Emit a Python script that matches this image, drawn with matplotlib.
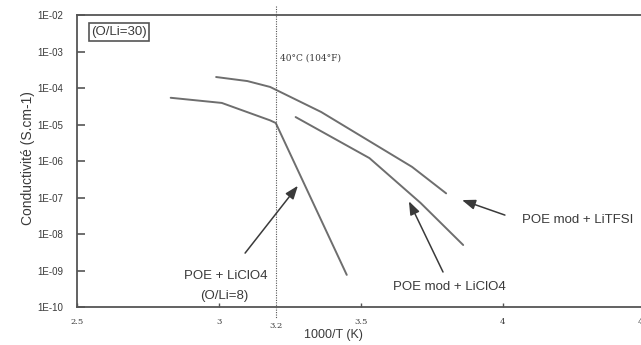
import numpy as np
import matplotlib
matplotlib.use("Agg")
import matplotlib.pyplot as plt

# conductivity curves, x = 1000/T (K^-1), y = conductivity (S/cm)
litfsi_x = [2.99, 3.10, 3.18, 3.36, 3.68, 3.80]
litfsi_y = [2.0e-4, 1.55e-4, 1.07e-4, 2.2e-5, 6.9e-7, 1.3e-7]

poe_liclo4_x = [2.83, 3.01, 3.18, 3.20, 3.45]
poe_liclo4_y = [5.4e-5, 3.9e-5, 1.3e-5, 1.1e-5, 7.6e-10]

mod_liclo4_x = [3.27, 3.53, 3.71, 3.86]
mod_liclo4_y = [1.6e-5, 1.2e-6, 7.1e-8, 5.0e-9]

x_ticks = [2.5, 3, 3.5, 4, 4.5]
x_tick_labels = ["2.5", "3", "3.5", "4", "4.5"]
y_ticks = [1e-10, 1e-9, 1e-8, 1e-7, 1e-6, 1e-5, 1e-4, 1e-3, 1e-2]
y_tick_labels = ["1E-10", "1E-09", "1E-08", "1E-07", "1E-06",
                 "1E-05", "1E-04", "1E-03", "1E-02"]
t_40c = 3.2  # 1000/T at 40 °C

ink = "#3a3a3a"
curve = "#6e6e6e"

fig = plt.figure(figsize=(6.41, 3.45), dpi=100)
ax = fig.add_axes([0.1201, 0.1101, 0.886, 0.8464])
ax.set_yscale("log")
ax.set_xlim(2.5, 4.5)
ax.set_ylim(1e-10, 1e-2)

for xs, ys in [(litfsi_x, litfsi_y), (poe_liclo4_x, poe_liclo4_y),
               (mod_liclo4_x, mod_liclo4_y)]:
    ax.plot(xs, ys, color=curve, lw=1.4, solid_capstyle="round")

# 40 °C marker line, running a little past the frame
ax.plot([t_40c, t_40c], [10 ** -1.75, 10 ** -10.3], color="#555555",
        lw=0.8, ls=(0, (1, 1.2)), clip_on=False)
ax.text(3.215, 6.6e-4, "40°C (104°F)", fontsize=6.5, family="DejaVu Serif",
        color=ink, va="center", ha="left")
ax.text(t_40c, 10 ** -10.42, "3.2", fontsize=6, family="DejaVu Serif",
        color=ink, ha="center", va="top")

# axes styling
for side in ["left", "bottom", "top"]:
    ax.spines[side].set_color("#555555")
    ax.spines[side].set_linewidth(1.3)
ax.spines["right"].set_visible(False)
ax.set_xticks(x_ticks)
ax.set_xticklabels(x_tick_labels, family="DejaVu Serif", fontsize=6, color=ink)
ax.set_yticks(y_ticks)
ax.set_yticklabels(y_tick_labels, family="Liberation Sans", fontsize=7, color=ink)
ax.yaxis.set_minor_locator(matplotlib.ticker.NullLocator())
ax.tick_params(axis="y", direction="in", length=6, width=1.2, color="#555555", pad=10)
ax.tick_params(axis="x", direction="in", length=3, width=1.0, color="#555555", pad=8)
ax.set_xlabel("1000/T (K)", family="Liberation Sans", fontsize=9, color=ink, labelpad=0)
ax.xaxis.set_label_coords(0.452, -0.075)
ax.set_ylabel("Conductivité (S.cm-1)", family="Liberation Sans", fontsize=10,
              color=ink)
ax.yaxis.set_label_coords(-0.074, 0.51)

ax.text(0.074, 0.942, "(O/Li=30)", transform=ax.transAxes, family="Liberation Sans",
        fontsize=9.5, color=ink, ha="center", va="center",
        bbox=dict(boxstyle="square,pad=0.2", fc="white", ec="#555555", lw=1.2))

arrow = dict(arrowstyle="-|>,head_length=0.8,head_width=0.3", color=ink, lw=1.1,
             shrinkA=0, shrinkB=0)
ax.annotate("", xy=(3.278, 2.1e-7), xytext=(3.092, 3.0e-9), arrowprops=arrow)
ax.annotate("", xy=(3.669, 7.9e-8), xytext=(3.789, 9.1e-10), arrowprops=arrow)
ax.annotate("", xy=(3.856, 8.5e-8), xytext=(4.007, 3.3e-8), arrowprops=arrow)

label_kw = dict(family="Liberation Sans", fontsize=9.5, color=ink,
                ha="center", va="center")
ax.text(3.025, 10 ** -9.15, "POE + LiClO4", **label_kw)
ax.text(3.018, 10 ** -9.70, "(O/Li=8)", **label_kw)
ax.text(3.813, 3.5e-10, "POE mod + LiClO4", **label_kw)
ax.text(4.264, 2.4e-8, "POE mod + LiTFSI", **label_kw)

fig.savefig("out.png", dpi=100)
